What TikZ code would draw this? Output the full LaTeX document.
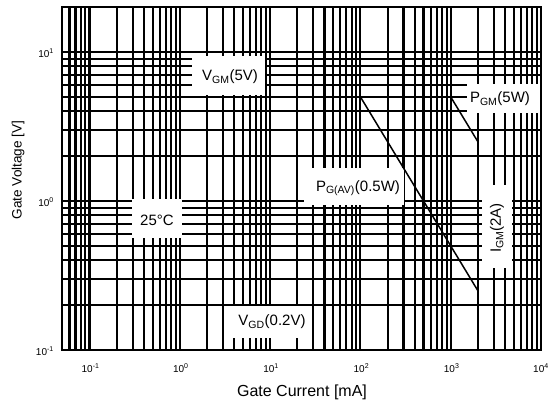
\documentclass[tikz,border=0pt]{standalone}
\usepackage{fontspec}
\setmainfont{Liberation Sans}
\usepackage{graphicx}
\begin{document}
\begin{tikzpicture}[x=1pt,y=-1pt,
  declare function={gx(\i)=89.5+90.3*(log10(\i)+1); gy(\v)=350-149*(log10(\v)+1);},
  gridline/.style={line width=2.1pt,black},
  frameline/.style={line width=2.4pt,black},
  powerline/.style={line width=1.5pt,black},
  labelbox/.style={fill=white,inner sep=0pt,draw=none},
  labeltext/.style={inner sep=0pt,font=\fontsize{15}{18}\selectfont},
  ticklabel/.style={inner sep=0pt,font=\fontsize{10}{11}\selectfont},
  axistitle/.style={inner sep=0pt,font=\fontsize{16}{19}\selectfont}]
\useasboundingbox (0,0) rectangle (550,405);
\fill[white] (0,0) rectangle (550,405);
\coordinate (tl) at (61.8,7.1);
\coordinate (br) at (541,350);
% grid
\begin{scope}
\clip (tl) rectangle (br);
\foreach \e in {-2,...,3}{\foreach \k in {1,...,9}{
  \pgfmathsetmacro{\xx}{89.5+90.3*(\e+1+log10(\k))}
  \draw[gridline] (\xx,0) -- (\xx,400);}}
\foreach \e in {-1,0,1}{\foreach \k in {1,...,9}{
  \pgfmathsetmacro{\yy}{350-149*(\e+1+log10(\k))}
  \draw[gridline] (0,\yy) -- (560,\yy);}}
\end{scope}
% label boxes
\node[labelbox,minimum width=73pt,minimum height=39pt] (bvgm) at (228.5,75.5) {};
\node[labeltext] (tvgm) at (230,77) {V\textsubscript{GM}(5V)};
\node[labelbox,minimum width=73pt,minimum height=29pt] (bpgm) at (503.5,98.5) {};
\node[labeltext] (tpgm) at (500,99) {P\textsubscript{GM}(5W)};
\node[labelbox,minimum width=100pt,minimum height=37pt] (bpav) at (354,186.5) {};
\node[labeltext] (tpav) at (358,188) {P\textsubscript{G(AV)}(0.5W)};
\node[labelbox,minimum width=50pt,minimum height=39pt] (btemp) at (157,218.5) {};
\node[labeltext] (ttemp) at (157,220) {25°C};
\node[labelbox,minimum width=30pt,minimum height=83pt] (bigm) at (497,226.5) {};
\node[labeltext] (tigm) at (497,228) {\rotatebox{90}{I\textsubscript{GM}(2A)}};
\node[labelbox,minimum width=80pt,minimum height=32pt] (bvgd) at (266,322) {};
\node[labeltext] (tvgd) at (272,322) {V\textsubscript{GD}(0.2V)};
% power curves
\coordinate (pa1) at ({gx(100)},{gy(5)});
\coordinate (pa2) at ({gx(2000)},{gy(0.25)});
\coordinate (pm1) at ({gx(1000)},{gy(5)});
\coordinate (pm2) at ({gx(2000)},{gy(2.5)});
\draw[powerline] (pa1) -- (pa2);
\draw[powerline] (pm1) -- (pm2);
% frame
\draw[frameline] (tl) rectangle (br);
% tick labels
\node[ticklabel] (xm1) at ({gx(0.1)+1},368) {10\textsuperscript{-1}};
\node[ticklabel] (x0) at ({gx(1)+1},368) {10\textsuperscript{0}};
\node[ticklabel] (x1) at ({gx(10)+1},368) {10\textsuperscript{1}};
\node[ticklabel] (x2) at ({gx(100)+1},368) {10\textsuperscript{2}};
\node[ticklabel] (x3) at ({gx(1000)+1},368) {10\textsuperscript{3}};
\node[ticklabel] (x4) at ({gx(10000)},368) {10\textsuperscript{4}};
\node[ticklabel,anchor=east] (y1) at (54,{gy(10)+1}) {10\textsuperscript{1}};
\node[ticklabel,anchor=east] (y0) at (54,{gy(1)+1}) {10\textsuperscript{0}};
\node[ticklabel,anchor=east] (ym1) at (54,{gy(0.1)+1}) {10\textsuperscript{-1}};
% axis titles
\node[axistitle] (xt) at (302,392) {Gate Current [mA]};
\node[inner sep=0pt,font=\fontsize{13.6}{16}\selectfont] (yt) at (18,170) {\rotatebox{90}{Gate Voltage [V]}};
\end{tikzpicture}
\end{document}
